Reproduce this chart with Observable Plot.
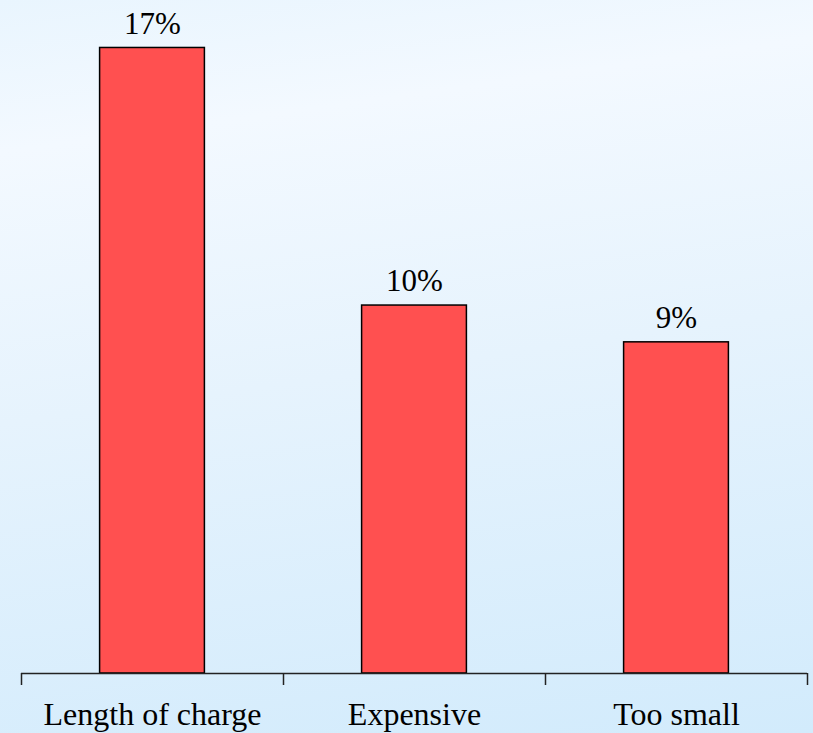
<!DOCTYPE html>
<html>
<head>
<meta charset="utf-8">
<script src="https://cdn.jsdelivr.net/npm/d3@7"></script>
<script src="https://cdn.jsdelivr.net/npm/@observablehq/plot@0.6"></script>
<style>
  html, body { margin: 0; padding: 0; background: #ffffff; }
</style>
</head>
<body>
<div id="chart"></div>
<script>
const categories = ["Length of charge", "Expensive", "Too small"];
const values = [17, 10, 9];
const valueLabels = ["17%", "10%", "9%"];
const boundaryTicks = [0, 1, 2, 3];

const data = categories.map((c, i) => ({category: c, value: values[i], label: valueLabels[i], index: i}));
const font = "Liberation Serif";

const chart = Plot.plot({
  width: 813,
  height: 733,
  marginTop: 0,
  marginLeft: 21,
  marginRight: 6,
  marginBottom: 60,
  style: {
    background: "linear-gradient(172deg, #e9f5fe 0%, #f3f9ff 18%, #e6f3fd 50%, #d2ebfc 100%)",
    fontFamily: font,
    fontSize: "31px",
    color: "#000"
  },
  x: {domain: [0, 3], axis: null},
  y: {domain: [0, 18.29], axis: null},
  marks: [
    Plot.rectY(data, {
      x1: d => d.index,
      x2: d => d.index + 1,
      y: "value",
      insetLeft: 78.6,
      insetRight: 78.6,
      fill: "#ff5050",
      stroke: "#000",
      strokeWidth: 1.5
    }),
    Plot.ruleY([0], {stroke: "#222", strokeWidth: 1.5}),
    Plot.axisX({ticks: boundaryTicks, tickFormat: () => "", tickSize: 12, stroke: "#222", strokeWidth: 1.5, anchor: "bottom"}),
    Plot.text(data, {
      x: d => d.index + 0.5,
      y: "value",
      text: "label",
      dy: -24,
      fill: "#000",
      fontSize: 31,
      fontFamily: font
    }),
    Plot.text(data, {
      x: d => d.index + 0.5,
      y: 0,
      text: "category",
      dy: 41.5,
      fill: "#000",
      fontSize: 32,
      fontFamily: font
    })
  ]
});
document.getElementById("chart").appendChild(chart);
</script>
</body>
</html>
